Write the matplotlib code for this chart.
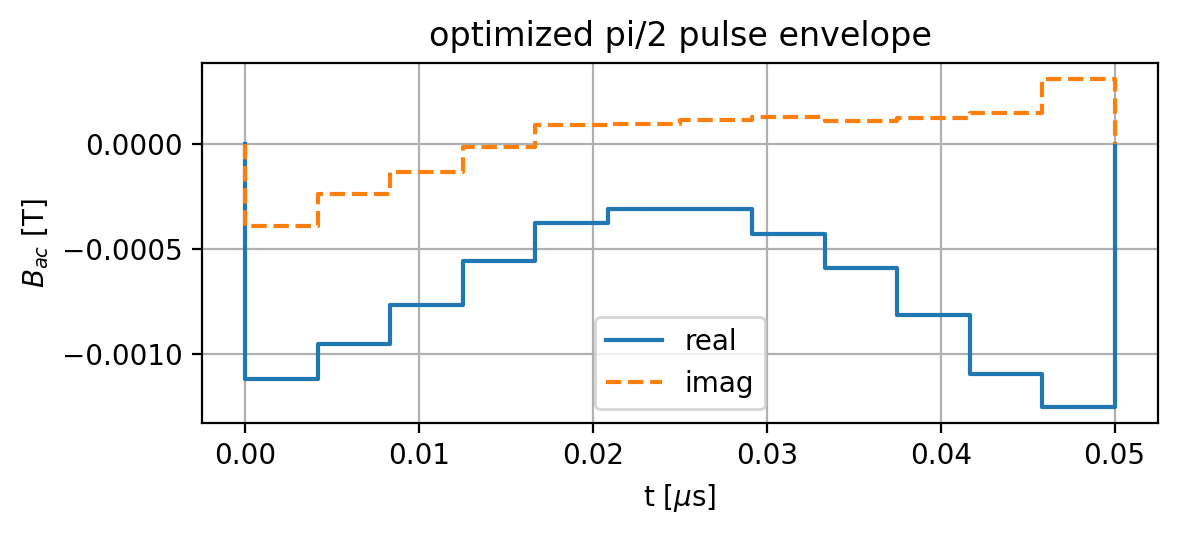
import numpy as np
import matplotlib
matplotlib.use("Agg")
import matplotlib.pyplot as plt

t_end = 0.05
n_seg = 12
real_vals = [-0.001119, -0.000953, -0.000767, -0.000557, -0.000377, -0.000312,
             -0.000312, -0.000431, -0.000590, -0.000815, -0.001097, -0.001251]
imag_vals = [-0.000394, -0.000239, -0.000135, -0.0000176, 0.0000869, 0.000093,
             0.000111, 0.000125, 0.000107, 0.000120, 0.000145, 0.000305]

edges = np.linspace(0, t_end, n_seg + 1)
t = np.concatenate([[0.0], edges])
real_y = np.concatenate([[0.0], real_vals, [0.0]])
imag_y = np.concatenate([[0.0], imag_vals, [0.0]])

fig = plt.figure(figsize=(5.89, 2.67), dpi=200)
ax = fig.add_axes([202/1178, 1 - 423/534, (1158-202)/1178, (423-63)/534])
ax.step(t, real_y, where='post', label='real')
ax.step(t, imag_y, where='post', linestyle='--', label='imag')
ax.set_title('optimized pi/2 pulse envelope')
ax.set_xlabel(r't [$\mu$s]')
ax.set_ylabel(r'$B_{ac}$ [T]')
ax.grid(True)
ax.legend(loc='lower center')
fig.savefig('out.png', dpi=200)
